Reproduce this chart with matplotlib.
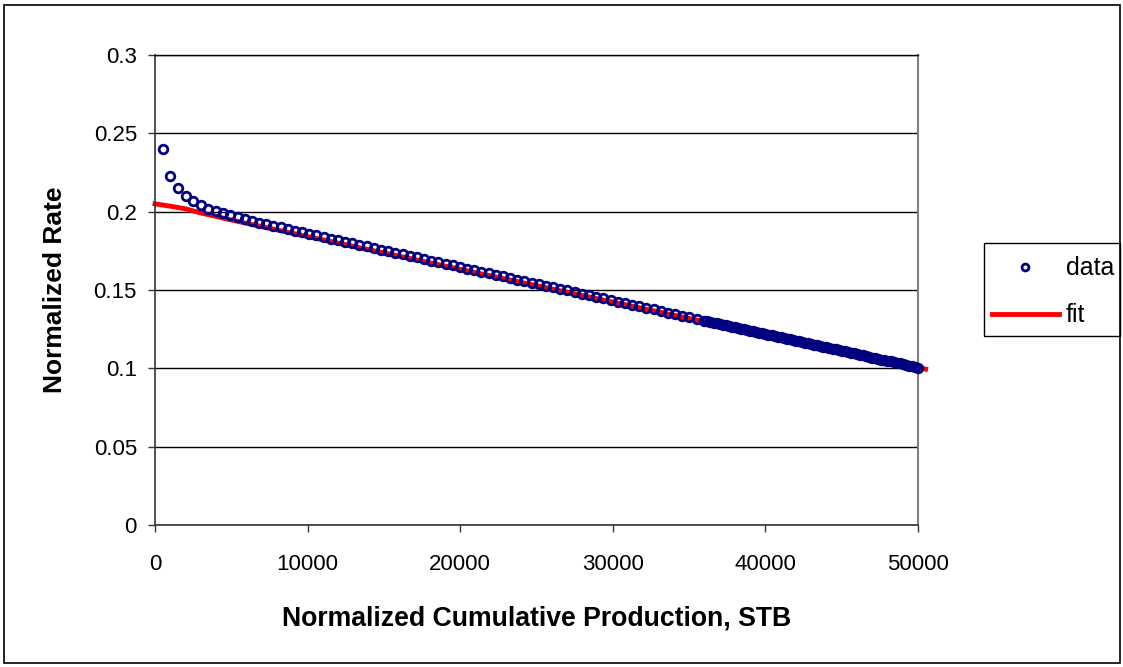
import matplotlib
matplotlib.use("Agg")
import matplotlib.pyplot as plt
from matplotlib.patches import Rectangle

plt.rcParams['font.family'] = ['Liberation Sans', 'DejaVu Sans']

# normalized cumulative production (STB) and normalized rate
cum_early = [500, 1000, 1500, 2000, 2500, 3000, 3500, 4000]
rate_early = [0.2400, 0.2225, 0.2150, 0.2100, 0.2065, 0.2040, 0.2020, 0.2003]

cum_mid = [4470, 4940, 5410, 5880, 6350, 6820, 7290, 7760, 8230, 8700,
           9170, 9640, 10110, 10580, 11050, 11520, 11990, 12460, 12930, 13400,
           13870, 14340, 14810, 15280, 15750, 16220, 16690, 17160, 17630, 18100,
           18570, 19040, 19510, 19980, 20450, 20920, 21390, 21860, 22330, 22800,
           23270, 23740, 24210, 24680, 25150, 25620, 26090, 26560, 27030, 27500,
           27970, 28440, 28910, 29380, 29850, 30320, 30790, 31260, 31730, 32200,
           32670, 33140, 33610, 34080, 34550, 35020, 35490, 35960]
rate_mid = [0.1989, 0.1976, 0.1964, 0.1952, 0.1941, 0.1930, 0.1919, 0.1909, 0.1899, 0.1889,
            0.1879, 0.1869, 0.1859, 0.1849, 0.1839, 0.1828, 0.1818, 0.1808, 0.1798, 0.1788,
            0.1778, 0.1768, 0.1758, 0.1748, 0.1738, 0.1728, 0.1718, 0.1708, 0.1698, 0.1688,
            0.1678, 0.1668, 0.1657, 0.1647, 0.1637, 0.1627, 0.1617, 0.1607, 0.1597, 0.1587,
            0.1577, 0.1567, 0.1557, 0.1547, 0.1537, 0.1527, 0.1517, 0.1507, 0.1497, 0.1487,
            0.1476, 0.1466, 0.1456, 0.1446, 0.1436, 0.1426, 0.1416, 0.1406, 0.1396, 0.1386,
            0.1376, 0.1366, 0.1356, 0.1346, 0.1336, 0.1326, 0.1316, 0.1305]

cum_late = [36200, 36400, 36600, 36800, 37000, 37200, 37400, 37600, 37800, 38000,
            38200, 38400, 38600, 38800, 39000, 39200, 39400, 39600, 39800, 40000,
            40200, 40400, 40600, 40800, 41000, 41200, 41400, 41600, 41800, 42000,
            42200, 42400, 42600, 42800, 43000, 43200, 43400, 43600, 43800, 44000,
            44200, 44400, 44600, 44800, 45000, 45200, 45400, 45600, 45800, 46000,
            46200, 46400, 46600, 46800, 47000, 47200, 47400, 47600, 47800, 48000,
            48200, 48400, 48600, 48800, 49000, 49200, 49400, 49600, 49800, 50000]
rate_late = [0.1300, 0.1296, 0.1292, 0.1287, 0.1283, 0.1279, 0.1275, 0.1270, 0.1266, 0.1262,
             0.1258, 0.1253, 0.1249, 0.1245, 0.1240, 0.1236, 0.1232, 0.1228, 0.1223, 0.1219,
             0.1215, 0.1210, 0.1206, 0.1202, 0.1198, 0.1193, 0.1189, 0.1185, 0.1180, 0.1176,
             0.1172, 0.1168, 0.1163, 0.1159, 0.1155, 0.1150, 0.1146, 0.1142, 0.1138, 0.1133,
             0.1129, 0.1125, 0.1121, 0.1116, 0.1112, 0.1108, 0.1103, 0.1099, 0.1095, 0.1091,
             0.1086, 0.1082, 0.1078, 0.1073, 0.1069, 0.1065, 0.1061, 0.1056, 0.1052, 0.1048,
             0.1044, 0.1039, 0.1035, 0.1031, 0.1026, 0.1022, 0.1018, 0.1014, 0.1009, 0.1005]

# straight-line fit
cum_fit = [0, 1000, 2000, 3000, 5000, 10000, 20000, 30000, 40000, 50500]
rate_fit = [0.2050, 0.2035, 0.2018, 0.1992, 0.1947, 0.1841, 0.1632, 0.1423, 0.1214, 0.0995]

cum = cum_early + cum_mid + cum_late
rate = rate_early + rate_mid + rate_late

W, H = 1123, 667
fig = plt.figure(figsize=(W / 100, H / 100), dpi=100)
ax = fig.add_axes([155 / W, 1 - 525 / H, (918 - 155) / W, (525 - 55) / H])

ax.plot(cum_fit, rate_fit, color='#ff0000', lw=3.5, clip_on=False, zorder=2, label='fit')
ax.plot(cum, rate, linestyle='none', marker='o', ms=6.2, mfc='none', mec='#000080',
        mew=2.0, clip_on=False, zorder=3, label='data')

ax.set_xlim(0, 50000)
ax.set_ylim(0, 0.3)
ax.set_xticks([0, 10000, 20000, 30000, 40000, 50000])
ax.set_xticklabels(['0', '10000', '20000', '30000', '40000', '50000'])
ax.set_yticks([0, 0.05, 0.1, 0.15, 0.2, 0.25, 0.3])
ax.set_yticklabels(['0', '0.05', '0.1', '0.15', '0.2', '0.25', '0.3'])
ax.yaxis.grid(True, color='black', lw=1)
ax.set_axisbelow(True)

ax.tick_params(axis='both', direction='out', length=5, width=1, color='#333333',
               labelsize=16)
ax.tick_params(axis='y', pad=8)
ax.tick_params(axis='x', pad=16)
for side in ['left', 'bottom']:
    ax.spines[side].set_color('#333333')
    ax.spines[side].set_linewidth(1.2)
ax.spines['top'].set_color('black')
ax.spines['top'].set_linewidth(1)
ax.spines['right'].set_color('#808080')
ax.spines['right'].set_linewidth(1.5)

ax.set_xlabel('Normalized Cumulative Production, STB', fontsize=19.2, fontweight='bold',
              labelpad=22)
ax.set_ylabel('Normalized Rate', fontsize=19, fontweight='bold', labelpad=19)

# legend entries without their own frame; the box is drawn separately
handles, labels = ax.get_legend_handles_labels()
leg = fig.legend(handles[::-1], labels[::-1], loc='upper left',
                 bbox_to_anchor=(984 / W, 1 - 249 / H), borderaxespad=0,
                 fontsize=18, frameon=False,
                 handlelength=2.7, handletextpad=0.28, labelspacing=0.92,
                 borderpad=0.3, markerscale=0.8)
fig.patches.append(Rectangle((984 / W, 1 - 336 / H), (1120 - 984) / W, (336 - 243) / H,
                             transform=fig.transFigure, fill=False,
                             edgecolor='black', lw=1))

# outer chart border
fig.patches.append(Rectangle((4 / W, 4 / H), 1 - 7 / W, 1 - 9 / H, transform=fig.transFigure,
                             fill=False, edgecolor='black', lw=1.2))

fig.savefig('out.png', dpi=100)
